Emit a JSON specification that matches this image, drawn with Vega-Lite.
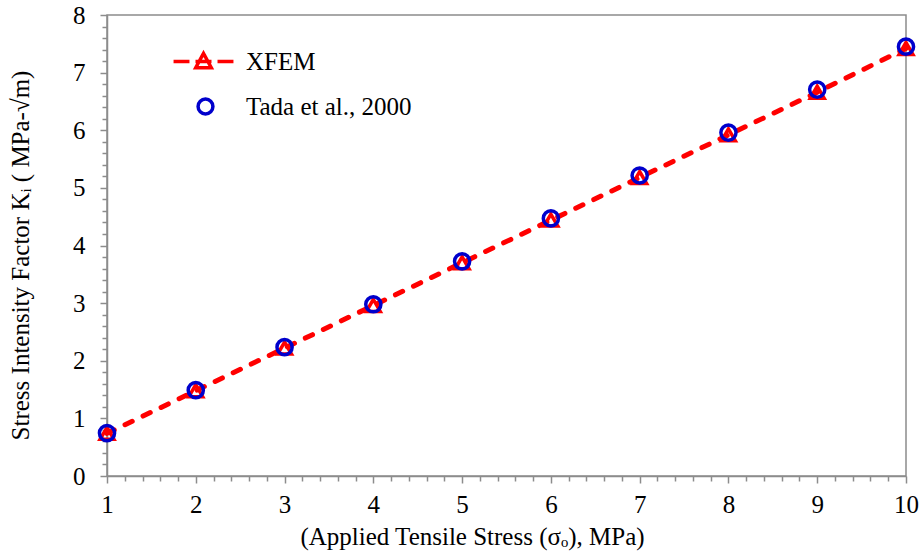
{
  "$schema": "https://vega.github.io/schema/vega-lite/v6.json",
  "width": 799,
  "height": 461,
  "autosize": {"type": "none"},
  "padding": {"left": 107, "top": 15, "right": 14, "bottom": 77},
  "background": "white",
  "config": {
    "view": {"stroke": "#8c8c8c", "strokeWidth": 1.5},
    "font": "Liberation Serif",
    "axis": {
      "labelFont": "Liberation Serif",
      "titleFont": "Liberation Serif",
      "labelFontSize": 25,
      "titleFontSize": 25,
      "titleFontWeight": "normal",
      "labelColor": "black",
      "titleColor": "black",
      "domainColor": "#8c8c8c",
      "domainWidth": 1.5,
      "tickColor": "#8c8c8c",
      "tickWidth": 1.5,
      "grid": false,
      "labelOverlap": false,
      "labelFlush": false
    },
    "legend": {
      "labelFont": "Liberation Serif",
      "labelFontSize": 25,
      "labelColor": "black",
      "labelLimit": 0
    }
  },
  "data": {
    "values": [
      {"x": 1, "y": 0.74, "series": "XFEM"},
      {"x": 2, "y": 1.48, "series": "XFEM"},
      {"x": 3, "y": 2.22, "series": "XFEM"},
      {"x": 4, "y": 2.96, "series": "XFEM"},
      {"x": 5, "y": 3.70, "series": "XFEM"},
      {"x": 6, "y": 4.44, "series": "XFEM"},
      {"x": 7, "y": 5.18, "series": "XFEM"},
      {"x": 8, "y": 5.92, "series": "XFEM"},
      {"x": 9, "y": 6.66, "series": "XFEM"},
      {"x": 10, "y": 7.42, "series": "XFEM"},
      {"x": 1, "y": 0.745, "series": "Tada et al., 2000"},
      {"x": 2, "y": 1.49, "series": "Tada et al., 2000"},
      {"x": 3, "y": 2.235, "series": "Tada et al., 2000"},
      {"x": 4, "y": 2.98, "series": "Tada et al., 2000"},
      {"x": 5, "y": 3.725, "series": "Tada et al., 2000"},
      {"x": 6, "y": 4.47, "series": "Tada et al., 2000"},
      {"x": 7, "y": 5.215, "series": "Tada et al., 2000"},
      {"x": 8, "y": 5.96, "series": "Tada et al., 2000"},
      {"x": 9, "y": 6.705, "series": "Tada et al., 2000"},
      {"x": 10, "y": 7.45, "series": "Tada et al., 2000"}
    ]
  },
  "encoding": {
    "x": {
      "field": "x",
      "type": "quantitative",
      "scale": {"domain": [1, 10], "nice": false, "zero": false},
      "axis": {
        "title": "(Applied Tensile Stress (σₒ), MPa)",
        "titleX": 365,
        "titleY": 68,
        "titleAlign": "center",
        "titleBaseline": "alphabetic",
        "labelPadding": 9,
        "values": [1,1.2,1.4,1.6,1.8,2,2.2,2.4,2.6,2.8,3,3.2,3.4,3.6,3.8,4,4.2,4.4,4.6,4.8,5,5.2,5.4,5.6,5.8,6,6.2,6.4,6.6,6.8,7,7.2,7.4,7.6,7.8,8,8.2,8.4,8.6,8.8,9,9.2,9.4,9.6,9.8,10],
        "labelExpr": "abs(datum.value - round(datum.value)) < 0.001 ? format(datum.value, 'd') : ''",
        "tickSize": {"condition": {"test": "abs(datum.value - round(datum.value)) < 0.001", "value": 7}, "value": 5}
      }
    },
    "y": {
      "field": "y",
      "type": "quantitative",
      "scale": {"domain": [0, 8], "nice": false},
      "axis": {
        "title": "Stress Intensity Factor Kᵢ ( MPa-√m)",
        "titleX": -87,
        "titleY": 240,
        "titleAngle": -90,
        "titleAlign": "center",
        "titleBaseline": "middle",
        "labelPadding": 15,
        "values": [0,0.2,0.4,0.6,0.8,1,1.2,1.4,1.6,1.8,2,2.2,2.4,2.6,2.8,3,3.2,3.4,3.6,3.8,4,4.2,4.4,4.6,4.8,5,5.2,5.4,5.6,5.8,6,6.2,6.4,6.6,6.8,7,7.2,7.4,7.6,7.8,8],
        "labelExpr": "abs(datum.value - round(datum.value)) < 0.001 ? format(datum.value, 'd') : ''",
        "tickSize": {"condition": {"test": "abs(datum.value - round(datum.value)) < 0.001", "value": 7}, "value": 5}
      }
    }
  },
  "layer": [
    {
      "transform": [{"filter": "datum.series === 'XFEM'"}],
      "mark": {"type": "line", "strokeWidth": 5, "strokeDash": [8, 12], "strokeCap": "round"},
      "encoding": {
        "color": {
          "field": "series",
          "type": "nominal",
          "scale": {"domain": ["XFEM"], "range": ["#ff0000"]},
          "legend": {
            "title": null,
            "orient": "none",
            "legendX": 84,
            "legendY": 34,
            "padding": 0,
            "labelOffset": 30,
            "symbolSize": 220,
            "symbolStrokeWidth": 3.5,
            "symbolDash": [1, 0],
            "symbolType": "M-4.04,0L-1.89,0M-1.08,0L1.08,0M1.89,0L4.04,0M0,-1.1L1.05,0.85L-1.05,0.85Z"
          }
        }
      }
    },
    {
      "transform": [{"filter": "datum.series === 'XFEM'"}],
      "mark": {"type": "point", "shape": "triangle-up", "filled": false, "strokeWidth": 3.5, "size": 190, "color": "#ff0000", "opacity": 1}
    },
    {
      "transform": [{"filter": "datum.series === 'Tada et al., 2000'"}],
      "mark": {"type": "point", "shape": "circle", "filled": false, "strokeWidth": 3.5, "size": 230, "opacity": 1},
      "encoding": {
        "color": {
          "field": "series",
          "type": "nominal",
          "scale": {"domain": ["Tada et al., 2000"], "range": ["#0000cc"]},
          "legend": {
            "title": null,
            "orient": "none",
            "legendX": 86,
            "legendY": 79,
            "padding": 0,
            "labelOffset": 28,
            "symbolSize": 220,
            "symbolStrokeWidth": 3.5,
            "symbolType": "circle"
          }
        }
      }
    }
  ],
  "resolve": {"scale": {"color": "independent"}}
}
